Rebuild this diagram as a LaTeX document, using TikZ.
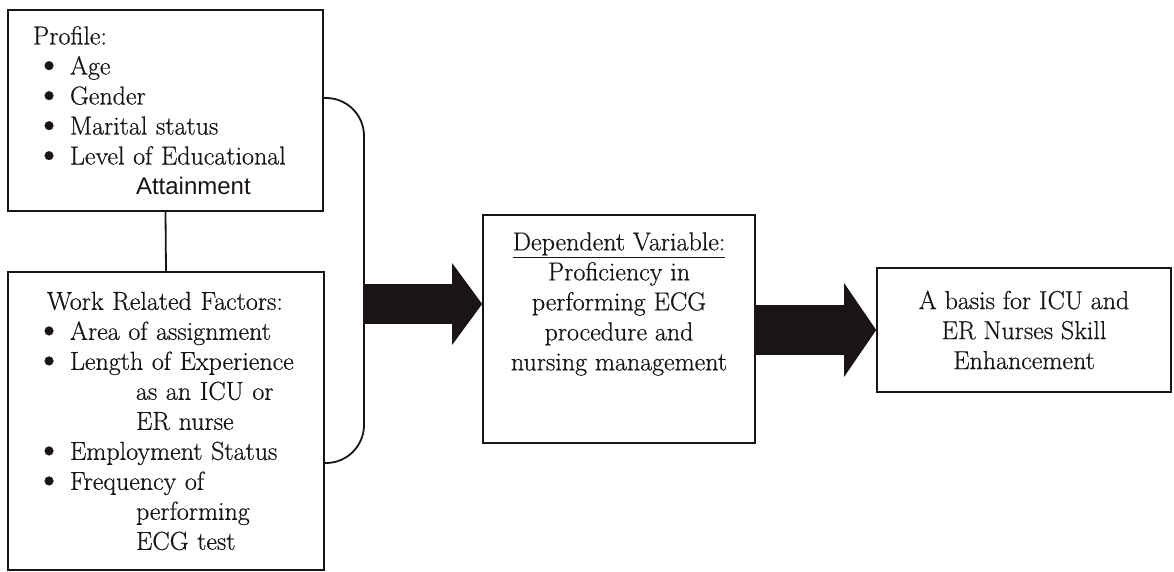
\documentclass[tikz,border=0pt]{standalone}
\usepackage{fontspec}
\setmainfont{Latin Modern Roman}[FakeBold=0.6]
\newfontfamily\sansA{Liberation Sans}
\usetikzlibrary{arrows.meta}
\newcommand\bul{\makebox[23pt][l]{\kern-12pt\smash{\raisebox{-1.5pt}{\scalebox{1.5}{\textbullet}}}\hss}}
\definecolor{ink}{HTML}{1A1414}
\begin{document}
\begin{tikzpicture}[x=1pt,y=-1pt,
  box/.style={draw=ink, line width=1.6pt, inner sep=0pt, rectangle},
  txt/.style={font=\fontsize{26}{30}\selectfont, text=ink},
  conn/.style={draw=ink, line width=1.8pt}]
\useasboundingbox (0,0) rectangle (1174,572);
% left boxes
\node[box, txt, minimum width=315pt, minimum height=201pt, text width=315pt, align=left] (profile) at (165.5,110.5) {%
\hspace*{25pt}Profile:\\
\hspace*{39pt}\bul Age\\
\hspace*{39pt}\bul Gender\\
\hspace*{39pt}\bul Marital status\\
\hspace*{39pt}\bul Level of Educational\\
\hspace*{128pt}{\fontsize{24}{30}\selectfont\sansA Attainment}};
\node[box, txt, minimum width=316pt, minimum height=298pt, text width=316pt, align=left] (work) at (166,421) {%
\hspace*{39pt}Work Related Factors:\\
\hspace*{39pt}\bul Area of assignment\\
\hspace*{39pt}\bul Length of Experience\\
\hspace*{128pt}as an ICU or\\
\hspace*{128pt}ER nurse\\
\hspace*{39pt}\bul Employment Status\\
\hspace*{39pt}\bul Frequency of\\
\hspace*{128pt}performing\\
\hspace*{128pt}ECG test};
\draw[conn] (profile.south) -- (work.north);
% bracket
\coordinate (bt) at (323,98);
\coordinate (bb) at (324,463);
\coordinate (bm) at (364,304);
\draw[conn, rounded corners=38pt] (bt) -- (364,98) -- (364,463) -- (bb);
% middle box
\node[box, minimum width=272pt, minimum height=228pt] (dv) at (619,329) {};
\node[txt, align=center, inner sep=0pt] (dvt) at (619,304) {\underline{Dependent Variable:}\\Proficiency in\\performing ECG\\procedure and\\nursing management};
% right box
\node[box, txt, minimum width=294pt, minimum height=124pt, align=center] (basis) at (1024,330) {A basis for ICU and\\ER Nurses Skill\\Enhancement};
% block arrows
\draw[ink, line width=40pt, -{Triangle[length=30pt,width=80pt]}] (bm) -- (dv.west |- bm);
\coordinate (am) at (dv.east |- basis.west);
\draw[ink, line width=50pt, -{Triangle[length=32pt,width=92pt]}] (am) -- (basis.west);
\end{tikzpicture}
\end{document}
